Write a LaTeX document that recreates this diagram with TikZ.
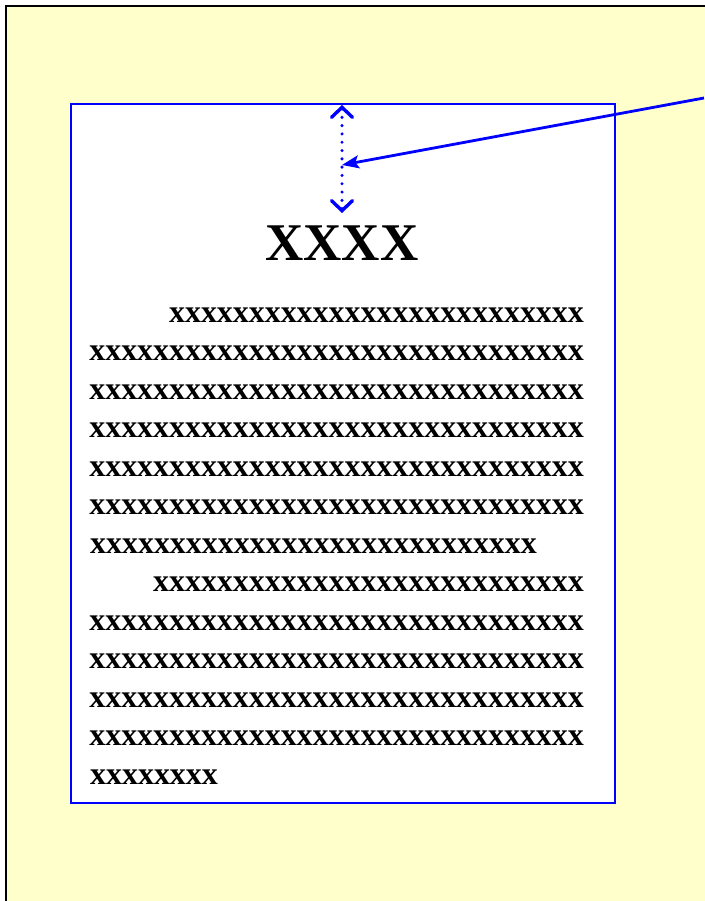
\documentclass[tikz,border=0pt]{standalone}
\usepackage{fontspec}
\setmainfont{Liberation Serif}
\usetikzlibrary{arrows.meta}
\definecolor{bgyellow}{HTML}{FFFFCC}
\definecolor{pureblue}{RGB}{0,0,255}
\tikzset{
  bodyline/.style={inner sep=0pt, font=\fontsize{31.9}{32}\selectfont\bfseries},
  titletext/.style={inner sep=0pt, font=\fontsize{53}{54}\selectfont\bfseries},
  barb/.style={pureblue, line width=3.4pt, dash pattern=on 0pt off 8.3pt, line cap=round,
    {Straight Barb[length=10pt,width=21pt,line width=3.4pt,line cap=round]}-{Straight Barb[length=10pt,width=21pt,line width=3.4pt,line cap=round]}},
}
\begin{document}
\begin{tikzpicture}[x=1pt,y=-1pt]
\useasboundingbox (0,0) rectangle (704,901);
\fill[bgyellow] (6,6) rectangle (712,910);
\draw[black, line width=2.6pt] (6,910) -- (6,6) -- (712,6);
\node[draw=pureblue, fill=white, line width=2pt, minimum width=544pt, minimum height=699pt, inner sep=0pt, anchor=north west] (page) at (70,103) {};
\node[titletext, anchor=base] (title) at (342,260) {XXXX};
\node[bodyline, anchor=base east] (l1) at (584,322) {xxxxxxxxxxxxxxxxxxxxxxxxxx};
\node[bodyline, anchor=base east] (l2) at (584,360.5) {xxxxxxxxxxxxxxxxxxxxxxxxxxxxxxx};
\node[bodyline, anchor=base east] (l3) at (584,399) {xxxxxxxxxxxxxxxxxxxxxxxxxxxxxxx};
\node[bodyline, anchor=base east] (l4) at (584,437.5) {xxxxxxxxxxxxxxxxxxxxxxxxxxxxxxx};
\node[bodyline, anchor=base east] (l5) at (584,476) {xxxxxxxxxxxxxxxxxxxxxxxxxxxxxxx};
\node[bodyline, anchor=base east] (l6) at (584,514.5) {xxxxxxxxxxxxxxxxxxxxxxxxxxxxxxx};
\node[bodyline, anchor=base west] (l7) at (90,553) {xxxxxxxxxxxxxxxxxxxxxxxxxxxx};
\node[bodyline, anchor=base east] (m1) at (584,591.5) {xxxxxxxxxxxxxxxxxxxxxxxxxxx};
\node[bodyline, anchor=base east] (m2) at (584,630) {xxxxxxxxxxxxxxxxxxxxxxxxxxxxxxx};
\node[bodyline, anchor=base east] (m3) at (584,668.5) {xxxxxxxxxxxxxxxxxxxxxxxxxxxxxxx};
\node[bodyline, anchor=base east] (m4) at (584,707) {xxxxxxxxxxxxxxxxxxxxxxxxxxxxxxx};
\node[bodyline, anchor=base east] (m5) at (584,745.5) {xxxxxxxxxxxxxxxxxxxxxxxxxxxxxxx};
\node[bodyline, anchor=base west] (m6) at (90,784) {xxxxxxxx};
\coordinate (gtop) at (342,105);
\coordinate (gbot) at (342,213);
\coordinate (gmid) at (342,165);
\coordinate (src) at (704,98);
\draw[barb] (gtop) -- (gbot);
\draw[pureblue, line width=2.8pt, -{Stealth[length=17pt,width=13pt,inset=3.5pt]}] (src) -- (gmid);
\end{tikzpicture}
\end{document}
